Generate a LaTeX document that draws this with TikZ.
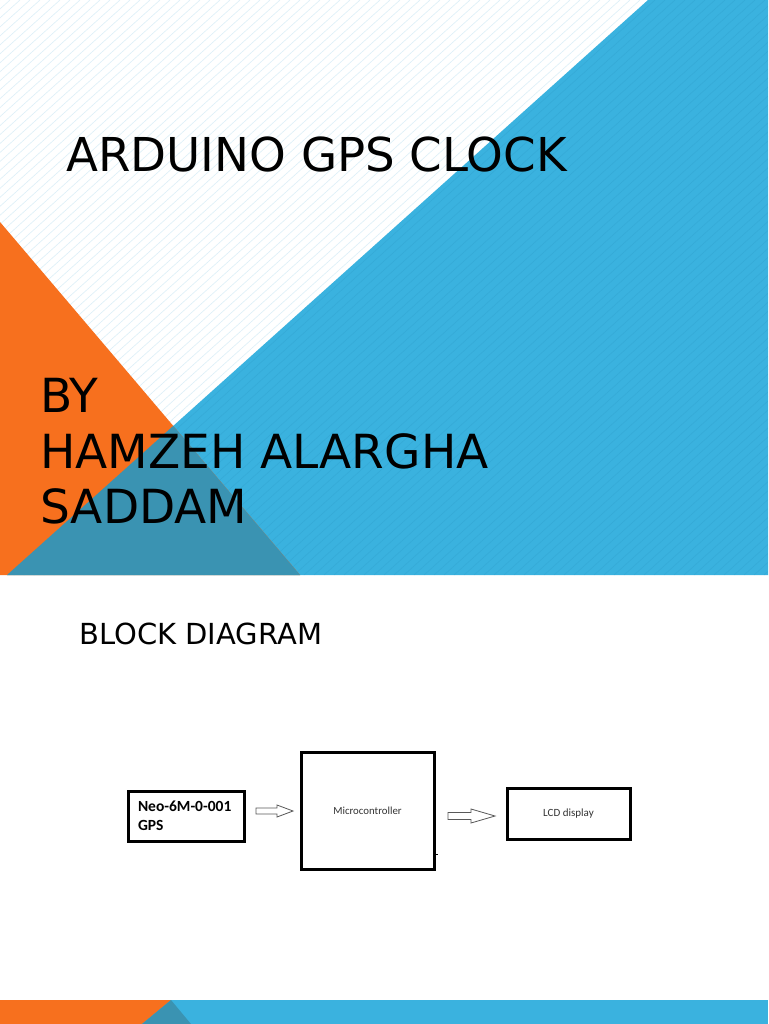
\documentclass[tikz,border=0pt]{standalone}
\usepackage{fontspec}
\setmainfont{DejaVu Sans}
\newfontfamily\boxfont{Carlito}
\usepackage{tikz}
\usetikzlibrary{calc}

\definecolor{slideblue}{HTML}{3AB2DF}
\definecolor{slideorange}{HTML}{F7701E}
\definecolor{slideteal}{HTML}{3A93B2}
\definecolor{hatchwhite}{HTML}{DCEFF8}
\definecolor{hatchblue}{HTML}{35A9D6}

\tikzset{
  blockbox/.style={draw=black, line width=3pt, inner sep=0pt},
  hollowarrow/.style={draw=black!65, line width=0.8pt, fill=white},
  slidetext/.style={anchor=base west, inner sep=0pt, text=black},
}

% start, end, half shaft, half head, head length
\newcommand{\fatarrow}[5]{%
  \draw[hollowarrow] ($(#1)+(0,-#3)$) -- ($(#2)+(-#5,-#3)$) -- ($(#2)+(-#5,-#4)$)
    -- (#2) -- ($(#2)+(-#5,#4)$) -- ($(#2)+(-#5,#3)$) -- ($(#1)+(0,#3)$) -- cycle;}

\begin{document}
\begin{tikzpicture}[x=1pt,y=-1pt]
      \useasboundingbox (0,0) rectangle (768,1024);
      \fill[white] (0,0) rectangle (768,1024);

       % title slide, hatching
      \begin{scope}
        \clip (0,0) rectangle (768,575);
        \foreach \c in {0,10,...,1410}
          \draw[hatchwhite, line width=0.6pt] (\c,0) -- (\c-641,575);
      \end{scope}

       % blue triangle
      \fill[slideblue] (648,0) -- (768,0) -- (768,575) -- (7,575) -- cycle;
      \begin{scope}
        \clip (648,0) -- (768,0) -- (768,575) -- (7,575) -- cycle;
        \foreach \c in {5,15,...,1415}
          \draw[hatchblue, line width=0.5pt] (\c,0) -- (\c-641,575);
      \end{scope}

       % orange triangle
      \fill[slideorange] (0,222) -- (300,575) -- (0,575) -- cycle;
      \begin{scope}
        \clip (0,222) -- (300,575) -- (0,575) -- cycle;
        \fill[slideteal] (648,0) -- (768,0) -- (768,575) -- (7,575) -- cycle;
      \end{scope}

       % title texts
      \node[slidetext, font=\fontsize{46.7}{56}\selectfont] (title) at (66,172) {ARDUINO GPS CLOCK};
      \node[slidetext, font=\fontsize{47}{56}\selectfont] (by) at (40,412) {BY};
      \node[slidetext, font=\fontsize{47}{56}\selectfont] (author1) at (40,468) {HAMZEH ALARGHA};
      \node[slidetext, font=\fontsize{47}{56}\selectfont] (author2) at (40,523) {SADDAM};

       % block diagram slide
      \node[slidetext, font=\fontsize{29}{35}\selectfont] (heading) at (79,644) {BLOCK DIAGRAM};

      \node[blockbox, minimum width=116pt, minimum height=50pt, text width=96pt, align=left,
            font=\boxfont\bfseries\fontsize{15.5}{19}\selectfont] (gps) at (186,816) {Neo-6M-0-001\\GPS};
      \node[blockbox, minimum width=133pt, minimum height=117pt, text=black!80,
            font=\boxfont\fontsize{10.8}{13}\selectfont] (mcu) at (367.5,811) {Microcontroller};
      \node[blockbox, minimum width=123pt, minimum height=51pt, text=black!80,
            font=\boxfont\fontsize{11}{13}\selectfont] (lcd) at (568.5,813.5) {LCD display};

       % arrows
      \coordinate (a1s) at (256,811);
      \coordinate (a1e) at (293,811);
      \fatarrow{a1s}{a1e}{3}{6}{16}
      \coordinate (a2s) at (448,816);
      \coordinate (a2e) at (495,816);
      \fatarrow{a2s}{a2e}{3.5}{7}{24}

       % stray tick
      \draw[line width=1pt] ($(mcu.south east)+(-1,-17)$) -- ($(mcu.south east)+(2,-17)$);

       % footer band
      \fill[slideblue] (0,1000) rectangle (768,1024);
      \fill[slideorange] (0,1000) -- (171,1000) -- (142,1024) -- (0,1024) -- cycle;
      \fill[slideteal] (171,1000) -- (191,1024) -- (142,1024) -- cycle;
\end{tikzpicture}
\end{document}
